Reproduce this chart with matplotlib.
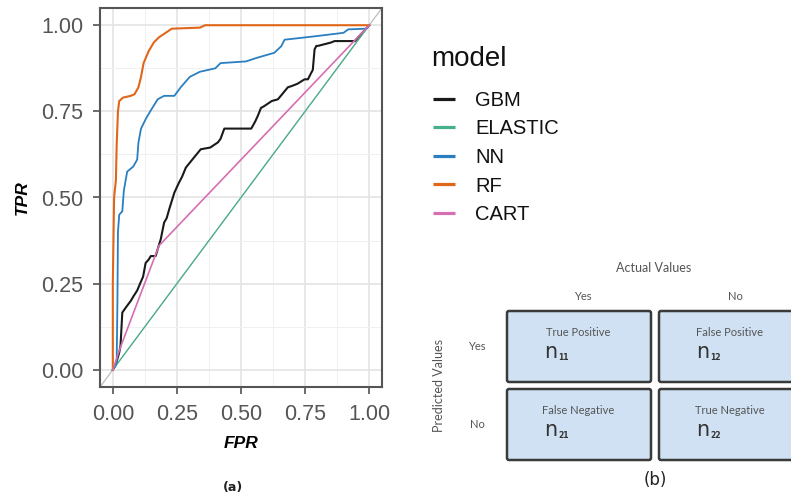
import matplotlib
matplotlib.use("Agg")
import matplotlib.pyplot as plt
from matplotlib.patches import FancyBboxPatch
from matplotlib.lines import Line2D
import numpy as np

# ---------------- data ----------------
models = ["GBM", "ELASTIC", "NN", "RF", "CART"]
colors = ["#1a1a1a", "#45b08c", "#2a7fc1", "#e0661a", "#d66fb1"]

gbm_fpr = [0.0, 0.01, 0.025, 0.03, 0.037, 0.05, 0.056, 0.07, 0.082, 0.095, 0.108, 0.118, 0.128,
           0.14, 0.148, 0.167, 0.175, 0.187, 0.2, 0.21, 0.22, 0.23, 0.24, 0.258, 0.27, 0.285,
           0.31, 0.343, 0.38, 0.41, 0.42, 0.435, 0.46, 0.474, 0.54, 0.555, 0.565, 0.578, 0.59,
           0.62, 0.644, 0.683, 0.696, 0.72, 0.748, 0.761, 0.774, 0.78, 0.787, 0.794, 0.80,
           0.852, 0.865, 0.944, 1.0]
gbm_tpr = [0.0, 0.012, 0.05, 0.07, 0.166, 0.18, 0.186, 0.20, 0.215, 0.23, 0.253, 0.27, 0.31,
           0.32, 0.33, 0.33, 0.35, 0.379, 0.427, 0.44, 0.466, 0.49, 0.514, 0.543, 0.56, 0.587,
           0.61, 0.64, 0.645, 0.66, 0.67, 0.70, 0.70, 0.70, 0.70, 0.72, 0.736, 0.76, 0.765,
           0.78, 0.785, 0.82, 0.823, 0.83, 0.843, 0.843, 0.862, 0.87, 0.93, 0.94, 0.94,
           0.95, 0.954, 0.954, 1.0]

elastic_fpr = [0.0, 1.0]
elastic_tpr = [0.0, 1.0]

nn_fpr = [0.0, 0.015, 0.018, 0.02, 0.025, 0.037, 0.043, 0.056, 0.08, 0.095, 0.10, 0.11, 0.13,
          0.15, 0.175, 0.2, 0.24, 0.265, 0.30, 0.34, 0.40, 0.42, 0.52, 0.56, 0.63, 0.657,
          0.67, 0.79, 0.90, 0.918, 0.99, 1.0]
nn_tpr = [0.0, 0.02, 0.20, 0.40, 0.45, 0.46, 0.52, 0.575, 0.59, 0.61, 0.66, 0.70, 0.73,
          0.755, 0.785, 0.795, 0.795, 0.82, 0.85, 0.865, 0.875, 0.89, 0.895, 0.905, 0.92, 0.939,
          0.958, 0.968, 0.978, 0.988, 0.99, 1.0]

rf_fpr = [0.0, 0.0, 0.005, 0.012, 0.015, 0.02, 0.025, 0.04, 0.07, 0.085, 0.10, 0.11, 0.12,
          0.14, 0.16, 0.18, 0.21, 0.23, 0.34, 0.36, 1.0]
rf_tpr = [0.0, 0.25, 0.50, 0.55, 0.65, 0.75, 0.78, 0.79, 0.795, 0.80, 0.82, 0.85, 0.89,
          0.925, 0.95, 0.965, 0.98, 0.99, 0.993, 1.0, 1.0]

cart_fpr = [0.0, 0.03, 0.18, 1.0]
cart_tpr = [0.0, 0.066, 0.36, 1.0]

roc_fpr = [gbm_fpr, elastic_fpr, nn_fpr, rf_fpr, cart_fpr]
roc_tpr = [gbm_tpr, elastic_tpr, nn_tpr, rf_tpr, cart_tpr]
widths = [1.5, 0.9, 1.3, 1.5, 1.2]

ticks = [0.0, 0.25, 0.5, 0.75, 1.0]
tick_labels = ["0.00", "0.25", "0.50", "0.75", "1.00"]

cm_actual = ["Yes", "No"]
cm_pred = ["Yes", "No"]
cm_names = [["True Positive", "False Positive"], ["False Negative", "True Negative"]]
cm_subs = [["11", "12"], ["21", "22"]]

# ---------------- figure ----------------
W, H = 791, 495
fig = plt.figure(figsize=(W / 100, H / 100), dpi=100)
fig.patch.set_facecolor("white")

# Panel (a): ROC
ax = fig.add_axes([100 / W, (H - 387) / H, 282 / W, 379 / H])
ax.set_xlim(-0.05, 1.05)
ax.set_ylim(-0.05, 1.05)
ax.set_xticks(ticks)
ax.set_yticks(ticks)
ax.set_xticks([0.125, 0.375, 0.625, 0.875], minor=True)
ax.set_yticks([0.125, 0.375, 0.625, 0.875], minor=True)
ax.set_xticklabels(tick_labels, family="Liberation Sans", fontsize=15.5, color="#555555")
ax.set_yticklabels(tick_labels, family="Liberation Sans", fontsize=15.5, color="#555555")
ax.tick_params(which="major", length=5, width=1.1, color="#444444", pad=7)
ax.tick_params(which="minor", length=0)
ax.grid(which="major", color="#e4e4e4", linewidth=1.2)
ax.grid(which="minor", color="#f0f0f0", linewidth=0.7)
ax.set_axisbelow(True)
for s in ax.spines.values():
    s.set_color("#555555")
    s.set_linewidth(1.5)

ax.axline((0, 0), (1, 1), color="#bdbdbd", linewidth=0.9, zorder=1)
for m, c, fx, ty, lw in zip(models, colors, roc_fpr, roc_tpr, widths):
    ax.plot(fx, ty, color=c, linewidth=lw, label=m, zorder=2, solid_joinstyle="round")

ax.set_xlabel("FPR", family="Liberation Sans", fontsize=12.5, fontweight="bold",
              fontstyle="italic", labelpad=8)
ax.set_ylabel("TPR", family="Liberation Sans", fontsize=12.5, fontweight="bold",
              fontstyle="italic", labelpad=8)

fig.text(233 / W, 1 - 488 / H, "(a)", ha="center", va="center",
         fontsize=9, fontweight="bold", color="#222222")

# Overlay in pixel coordinates for legend and panel (b)
ov = fig.add_axes([0, 0, 1, 1])
ov.set_xlim(0, W)
ov.set_ylim(H, 0)
ov.axis("off")
ov.patch.set_alpha(0)

# manual legend (ggplot style)
ov.text(431, 66.5, "model", ha="left", va="baseline", fontsize=20,
        family="Liberation Sans", color="#111111")
leg_y0, leg_dy = 98.5, 28.6
for k, (m, c) in enumerate(zip(models, colors)):
    yy = leg_y0 + k * leg_dy
    ov.add_line(Line2D([433, 455], [yy, yy], color=c, linewidth=2.3,
                       solid_capstyle="butt"))
    ov.text(475, yy + 7.2, m, ha="left", va="baseline", fontsize=14.5,
            family="Liberation Sans", color="#111111")

# Panel (b): confusion matrix
x0, y0 = 507, 311
bw, bh = 144, 71
gx, gy = 152, 78
txt_col = "#555555"
cm_font = "Lato"

ov.text(654, 268, "Actual Values", ha="center", va="center", fontsize=9,
        family=cm_font, color=txt_col)
ov.text(439, 385, "Predicted Values", ha="center", va="center", fontsize=9,
        family=cm_font, color=txt_col, rotation=90)

for j, lab in enumerate(cm_actual):
    ov.text(x0 + j * gx + bw / 2 + 4, 297, lab, ha="center", va="center",
            fontsize=8, family=cm_font, color=txt_col)
for i, lab in enumerate(cm_pred):
    ov.text(477, y0 + i * gy + 36, lab, ha="center", va="center",
            fontsize=8, family=cm_font, color=txt_col)

for i in range(2):
    for j in range(2):
        bx = x0 + j * gx
        by = y0 + i * gy
        box = FancyBboxPatch((bx, by), bw, bh, boxstyle="round,pad=0,rounding_size=2",
                             facecolor="#cfe1f2", edgecolor="#3a3a3a", linewidth=1.8,
                             clip_on=False)
        ov.add_patch(box)
        ov.text(bx + 71, by + 21, cm_names[i][j], ha="center", va="center",
                fontsize=8, family=cm_font, color=txt_col)
        ov.text(bx + 44, by + 41, "n", ha="center", va="center",
                fontsize=15, family="DejaVu Sans", color="#333333")
        ov.text(bx + 56.5, by + 46, cm_subs[i][j], ha="center", va="center",
                fontsize=5.5, fontweight="bold", family="DejaVu Sans", color="#333333")

ov.text(655, 480, "(b)", ha="center", va="center", fontsize=12, color="#222222")

fig.savefig("out.png", dpi=100)
